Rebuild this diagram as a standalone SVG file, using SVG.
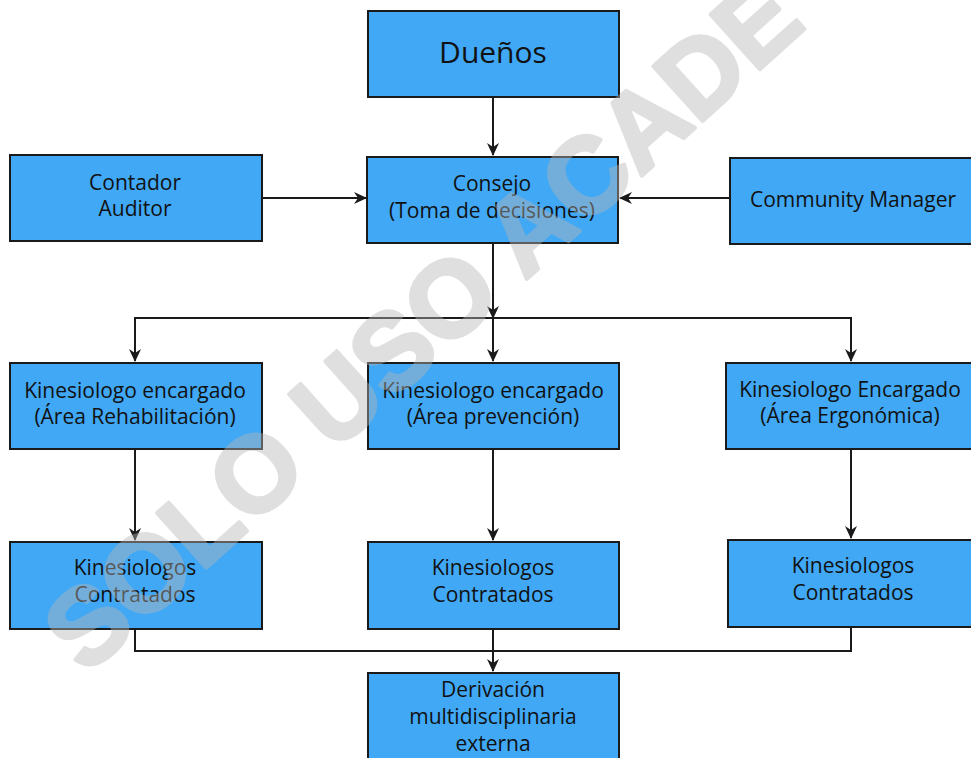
<svg xmlns="http://www.w3.org/2000/svg" width="971" height="758" viewBox="0 0 971 758">
<style>
.box{fill:#40a8f5;stroke:#1a1a1a;stroke-width:2}
.t{font-family:"Open Sans","Liberation Sans",sans-serif;font-size:21px;fill:#111;text-anchor:middle}
.c{fill:none;stroke:#1a1a1a;stroke-width:2}
.wm{font-family:"Liberation Sans",Arial,sans-serif;font-weight:bold;font-size:107px;fill:#b7b7b7;stroke:#b7b7b7;stroke-width:4;stroke-linejoin:round}
</style>
<defs>
<marker id="ah" markerWidth="14" markerHeight="12" refX="12" refY="6" orient="auto" markerUnits="userSpaceOnUse">
<path d="M0,0 L13,6 L0,12 L4,6 z" fill="#1a1a1a"/>
</marker>
</defs>
<rect width="971" height="758" fill="#fff"/>
<g id="connectors">
<path class="c" d="M493,97 V155" marker-end="url(#ah)"/>
<path class="c" d="M262,198 H366" marker-end="url(#ah)"/>
<path class="c" d="M730,198 H620" marker-end="url(#ah)"/>
<path class="c" d="M493,243 V318" marker-end="url(#ah)"/>
<path class="c" d="M493,318 H135 V361" marker-end="url(#ah)"/>
<path class="c" d="M493,318 H851 V361" marker-end="url(#ah)"/>
<path class="c" d="M493,318 V361" marker-end="url(#ah)"/>
<path class="c" d="M135,449 V540" marker-end="url(#ah)"/>
<path class="c" d="M493,449 V540" marker-end="url(#ah)"/>
<path class="c" d="M851,449 V538" marker-end="url(#ah)"/>
<path class="c" d="M135,629 V651 H851 V627"/>
<path class="c" d="M493,629 V671" marker-end="url(#ah)"/>
</g>
<g id="duenos"><rect class="box" x="368" y="11" width="251" height="86"/><text class="t" x="493" y="63" style="font-size:30px">Dueños</text></g>
<g id="consejo"><rect class="box" x="367" y="157" width="251" height="86"/><text class="t" x="492" y="191">Consejo</text><text class="t" x="492" y="218">(Toma de decisiones)</text></g>
<g id="contador"><rect class="box" x="10" y="155" width="252" height="86"/><text class="t" x="135" y="190">Contador</text><text class="t" x="135" y="216">Auditor</text></g>
<g id="community"><rect class="box" x="730" y="158" width="250" height="86"/><text class="t" x="853" y="207">Community Manager</text></g>
<g id="rehab"><rect class="box" x="10" y="363" width="252" height="86"/><text class="t" x="135" y="398">Kinesiologo encargado</text><text class="t" x="135" y="424">(Área Rehabilitación)</text></g>
<g id="prevencion"><rect class="box" x="368" y="363" width="251" height="86"/><text class="t" x="493" y="398">Kinesiologo encargado</text><text class="t" x="493" y="424">(Área prevención)</text></g>
<g id="ergonomica"><rect class="box" x="726" y="363" width="254" height="86"/><text class="t" x="850" y="397">Kinesiologo Encargado</text><text class="t" x="850" y="423">(Área Ergonómica)</text></g>
<g id="contratados1"><rect class="box" x="10" y="542" width="252" height="87"/><text class="t" x="135" y="575">Kinesiologos</text><text class="t" x="135" y="602">Contratados</text></g>
<g id="contratados2"><rect class="box" x="368" y="542" width="251" height="87"/><text class="t" x="493" y="575">Kinesiologos</text><text class="t" x="493" y="602">Contratados</text></g>
<g id="contratados3"><rect class="box" x="728" y="540" width="252" height="87"/><text class="t" x="853" y="573">Kinesiologos</text><text class="t" x="853" y="600">Contratados</text></g>
<g id="derivacion"><rect class="box" x="368" y="673" width="251" height="95"/><text class="t" x="493" y="697">Derivación</text><text class="t" x="493" y="724">multidisciplinaria</text><text class="t" x="493" y="751">externa</text></g>
<text class="wm" opacity="0.43" transform="translate(86,676) rotate(-42)">SOLO USO ACADE</text>
</svg>
